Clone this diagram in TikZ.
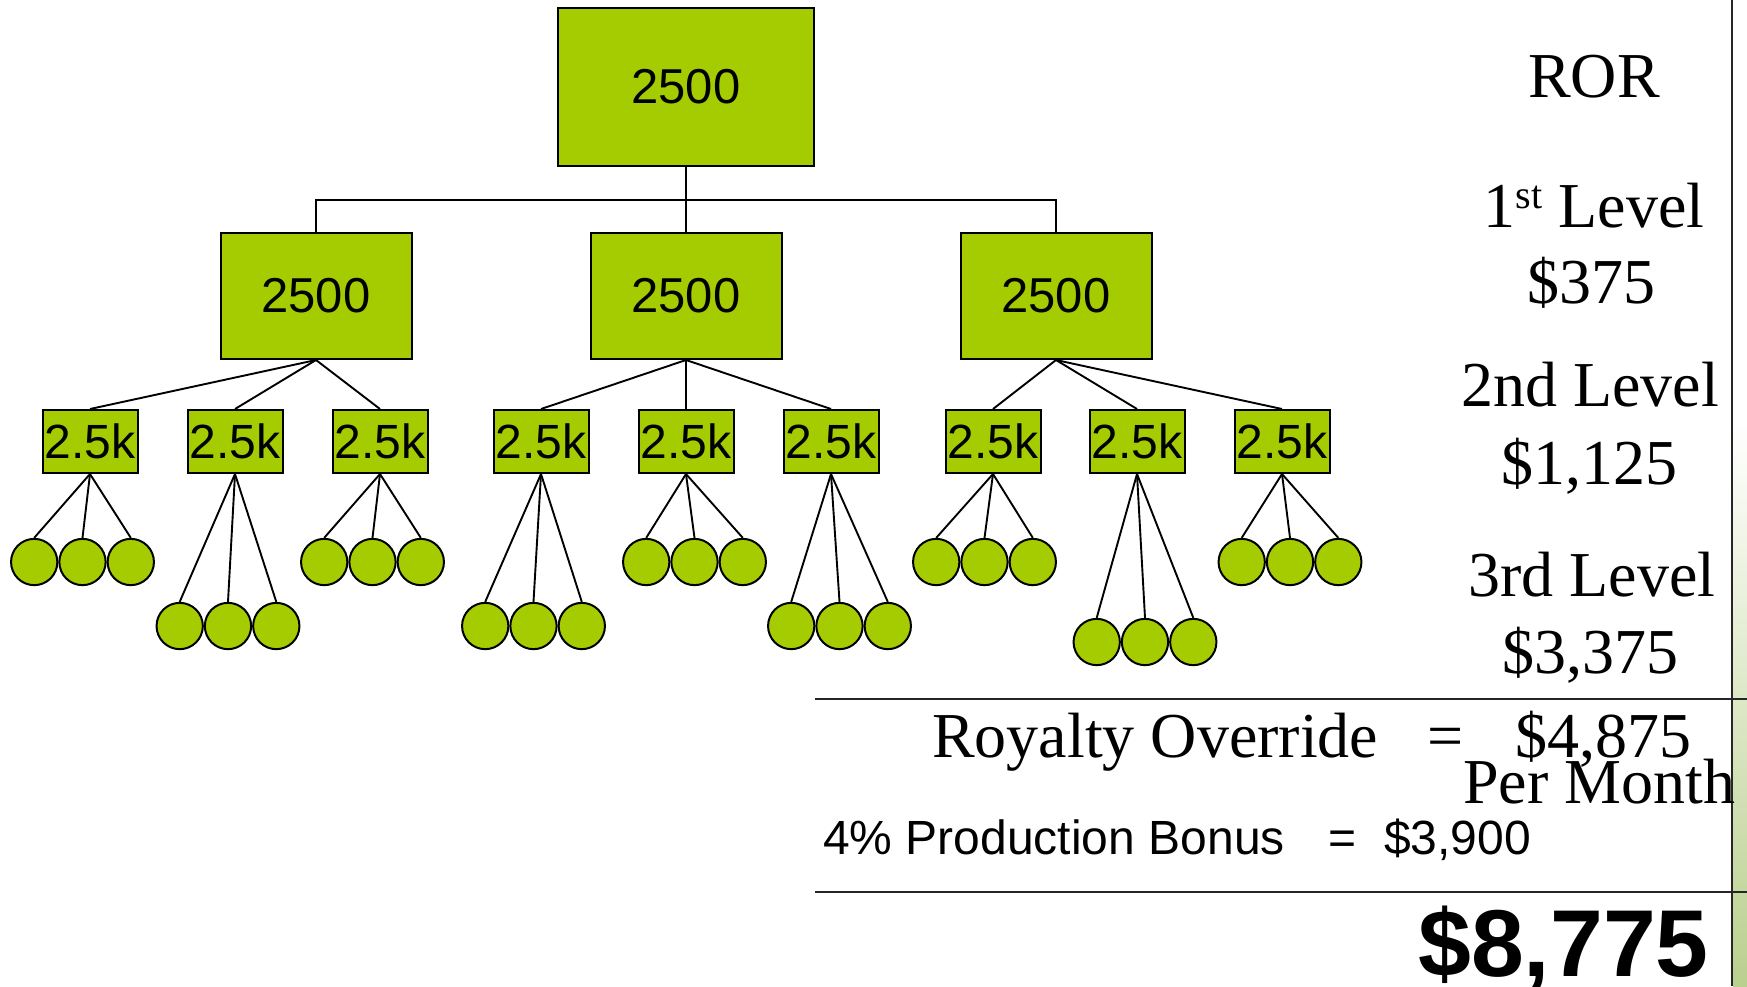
\documentclass[tikz,border=0pt]{standalone}
\usepackage{fontspec}
\setmainfont{Liberation Serif}
\newfontfamily\arialf{Liberation Sans}
\definecolor{leaf}{RGB}{165,204,0}
\definecolor{band}{RGB}{186,208,142}
\begin{document}
\begin{tikzpicture}[x=1pt,y=-1pt,
  boxbase/.style={draw=black, line width=2pt, fill=leaf, inner sep=0pt},
  bigbox/.style={boxbase, font=\arialf\fontsize{49}{56}\selectfont},
  smallbox/.style={boxbase, minimum width=95pt, minimum height=63pt, font=\arialf\fontsize{48}{52}\selectfont},
  ball/.style={circle, draw=black, line width=2pt, fill=leaf, inner sep=0pt, minimum size=46.3pt},
  link/.style={line width=1.9pt},
  rule/.style={line width=2pt, draw=black!85},
  ser/.style={font=\fontsize{64}{76}\selectfont, inner sep=0pt},
  sans/.style={font=\arialf\fontsize{48}{56}\selectfont, inner sep=0pt}
]
\useasboundingbox (0,0) rectangle (1747,986);
\fill[white] (0,0) rectangle (1747,986);
\fill[white] (1733,0) rectangle (1747,420);
\shade[top color=white, bottom color=band] (1733,420) rectangle (1747,986);

% top level
\node[bigbox, minimum width=256pt, minimum height=158pt] (top) at (686,87) {\raisebox{-2pt}{2500}};
% first level
\node[bigbox, minimum width=191pt, minimum height=126pt] (m1) at (316,296) {\raisebox{-2pt}{2500}};
\node[bigbox, minimum width=191pt, minimum height=126pt] (m2) at (686,296) {\raisebox{-2pt}{2500}};
\node[bigbox, minimum width=191pt, minimum height=126pt] (m3) at (1056,296) {\raisebox{-2pt}{2500}};
\draw[link] (top.south) -- ++(0,33) -| (m1.north);
\draw[link] (top.south) -- ++(0,33) -| (m3.north);
\draw[link] (top.south) -- (m2.north);

% second and third levels
\foreach \i/\x/\p/\cx/\cy in {1/90/1/82.5/562, 2/235/1/228/626, 3/380/1/372.5/562,
                              4/541/2/533.5/626, 5/686/2/694.5/562, 6/831/2/839.5/626,
                              7/993/3/984.5/562, 8/1137/3/1145/642, 9/1282/3/1290/562} {
  \node[smallbox] (s\i) at (\x,441.5) {\raisebox{-2pt}{2.5k}};
  \draw[link] (m\p.south) -- (s\i.north);
  \foreach \j/\dx in {1/-48.3, 2/0, 3/48.3} {
    \node[ball] (c\i\j) at (\cx+\dx,\cy) {};
    \draw[link] (s\i.south) -- (c\i\j.north);
  }
}

% right column
\draw[rule] (1732,0) -- (1732,986);
\node[ser, anchor=base] (ror) at (1594,97) {ROR};
\node[ser, anchor=base] (l1) at (1594,227) {1\raisebox{19pt}{\fontsize{40}{48}\selectfont st} Level};
\node[ser, anchor=base] (v1) at (1591,303) {\$375};
\node[ser, anchor=base] (l2) at (1590,406) {2nd Level};
\node[ser, anchor=base] (v2) at (1589,484) {\$1,125};
\node[ser, anchor=base] (l3) at (1592,596) {3rd Level};
\node[ser, anchor=base] (v3) at (1590,673) {\$3,375};

% totals
\draw[rule] (815,699) -- (1747,699);
\draw[rule] (815,892) -- (1747,892);
\node[ser, anchor=base west] (roy) at (932,757) {Royalty Override};
\node[ser, anchor=base] (eq1) at (1446,757) {=};
\node[ser, anchor=base west] (v4) at (1515,757) {\$4,875};
\node[ser, anchor=base west] (pm) at (1463,803) {Per Month};
\node[sans, anchor=base west] (pb) at (823,854) {4\% Production Bonus};
\node[sans, anchor=base] (eq2) at (1342,854) {=};
\node[sans, anchor=base west] (v5) at (1384,854) {\$3,900};
\node[font=\arialf\bfseries\fontsize{95}{110}\selectfont, inner sep=0pt, anchor=base west] (tot) at (1418,976) {\$8,775};
\end{tikzpicture}
\end{document}
